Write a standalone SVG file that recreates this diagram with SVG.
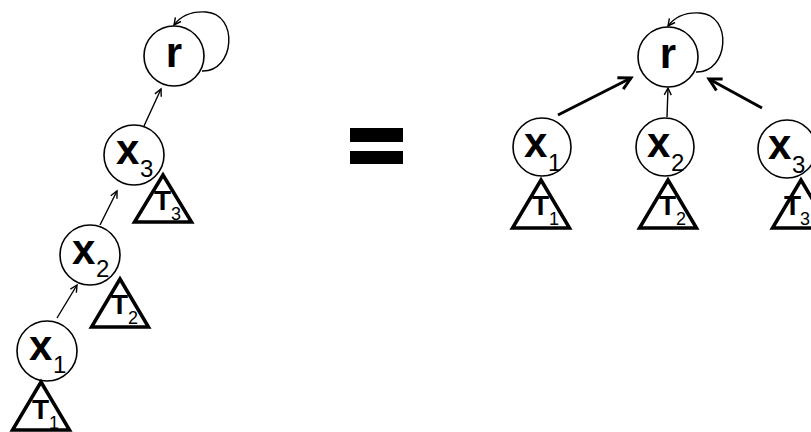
<svg xmlns="http://www.w3.org/2000/svg" width="811" height="432" viewBox="0 0 811 432">
  <style>
    .node { fill: #fff; stroke: #000; stroke-width: 1.6; }
    .tree { fill: none; stroke: #000; stroke-width: 3.5; stroke-linejoin: miter; }
    .lbl { font-family: "Liberation Sans", Arial, sans-serif; font-weight: bold; font-size: 42px; fill: #000; }
    .sub { font-family: "Liberation Sans", Arial, sans-serif; font-size: 24px; fill: #000; }
    .tl { font-family: "Liberation Sans", Arial, sans-serif; font-weight: bold; font-size: 28px; fill: #000; }
    .tsub { font-family: "Liberation Sans", Arial, sans-serif; font-size: 18px; fill: #000; }
    .thin { fill: none; stroke: #000; stroke-width: 1.4; marker-end: url(#headThin); }
    .thick { fill: none; stroke: #000; stroke-width: 3; marker-end: url(#headThick); }
  </style>
  <defs>
    <marker id="headThin" markerUnits="userSpaceOnUse" markerWidth="20" markerHeight="20" viewBox="-10 -10 20 20" refX="0" refY="0" orient="auto">
      <path d="M-7,-3.5 L0,0 L-7,3.5" fill="none" stroke="#000" stroke-width="1.4"/>
    </marker>
    <marker id="headThick" markerUnits="userSpaceOnUse" markerWidth="30" markerHeight="30" viewBox="-15 -15 30 30" refX="0" refY="0" orient="auto">
      <path d="M-12,-6.5 L0,0 L-12,6.5" fill="none" stroke="#000" stroke-width="3"/>
    </marker>
  </defs>

  <!-- connectors -->
  <g id="connectors">
    <!-- chain on the left -->
    <path class="thin" d="M202,71 C235,72 239,14 206,12 C191,11 180,17 174,25"/>
    <line class="thin" x1="144" y1="126" x2="161" y2="89"/>
    <line class="thin" x1="100" y1="225" x2="117" y2="191"/>
    <line class="thin" x1="57" y1="318" x2="77" y2="285"/>
    <!-- flat tree on the right -->
    <path class="thin" d="M696,72 C729,73 733,15 700,13 C685,12 674,18 668,26"/>
    <line class="thick" x1="558" y1="115" x2="631" y2="78"/>
    <line class="thin" stroke-width="1" x1="667" y1="117" x2="668" y2="88"/>
    <line class="thick" x1="762" y1="108" x2="709" y2="79"/>
  </g>

  <!-- left: path r <- x3 <- x2 <- x1 -->
  <g id="left-r">
    <circle class="node" cx="174" cy="56" r="30"/>
    <text class="lbl" x="174" y="67" text-anchor="middle">r</text>
  </g>
  <g id="left-x3">
    <circle class="node" cx="134" cy="155" r="30"/>
    <text class="lbl" x="116" y="164">x</text>
    <text class="sub" x="140" y="177">3</text>
  </g>
  <g id="left-T3">
    <polygon class="tree" points="163,175 191.5,222 134.5,222"/>
    <text class="tl" x="154" y="210">T</text>
    <text class="tsub" x="171" y="220">3</text>
  </g>
  <g id="left-x2">
    <circle class="node" cx="90" cy="255" r="30"/>
    <text class="lbl" x="72" y="264">x</text>
    <text class="sub" x="96" y="277">2</text>
  </g>
  <g id="left-T2">
    <polygon class="tree" points="120,279 148.5,327 91.5,327"/>
    <text class="tl" x="111" y="314">T</text>
    <text class="tsub" x="128" y="324">2</text>
  </g>
  <g id="left-x1">
    <circle class="node" cx="47" cy="351" r="30"/>
    <text class="lbl" x="29" y="360">x</text>
    <text class="sub" x="53" y="373">1</text>
  </g>
  <g id="left-T1">
    <polygon class="tree" points="41,382 69.5,430 12.5,430"/>
    <text class="tl" x="32" y="419">T</text>
    <text class="tsub" x="49" y="429">1</text>
  </g>

  <!-- equals sign -->
  <g id="equals">
    <rect x="350" y="128" width="53" height="14" fill="#000"/>
    <rect x="350" y="151" width="53" height="13" fill="#000"/>
  </g>

  <!-- right: every x points straight to r -->
  <g id="right-r">
    <circle class="node" cx="668" cy="57" r="30"/>
    <text class="lbl" x="668" y="68" text-anchor="middle">r</text>
  </g>
  <g id="right-x1">
    <circle class="node" cx="542" cy="147" r="29"/>
    <text class="lbl" x="524" y="157">x</text>
    <text class="sub" x="548" y="171">1</text>
  </g>
  <g id="right-T1">
    <polygon class="tree" points="541,180 569.5,228 512.5,228"/>
    <text class="tl" x="532" y="215">T</text>
    <text class="tsub" x="549" y="225">1</text>
  </g>
  <g id="right-x2">
    <circle class="node" cx="665" cy="147" r="29"/>
    <text class="lbl" x="647" y="157">x</text>
    <text class="sub" x="671" y="171">2</text>
  </g>
  <g id="right-T2">
    <polygon class="tree" points="668,180 696.5,228 639.5,228"/>
    <text class="tl" x="659" y="215">T</text>
    <text class="tsub" x="676" y="225">2</text>
  </g>
  <g id="right-x3">
    <circle class="node" cx="787" cy="149" r="29"/>
    <text class="lbl" x="768" y="159">x</text>
    <text class="sub" x="792" y="173">3</text>
  </g>
  <g id="right-T3">
    <polygon class="tree" points="801,180 829.5,228 772.5,228"/>
    <text class="tl" x="784" y="215">T</text>
    <text class="tsub" x="800" y="225">3</text>
  </g>
</svg>
